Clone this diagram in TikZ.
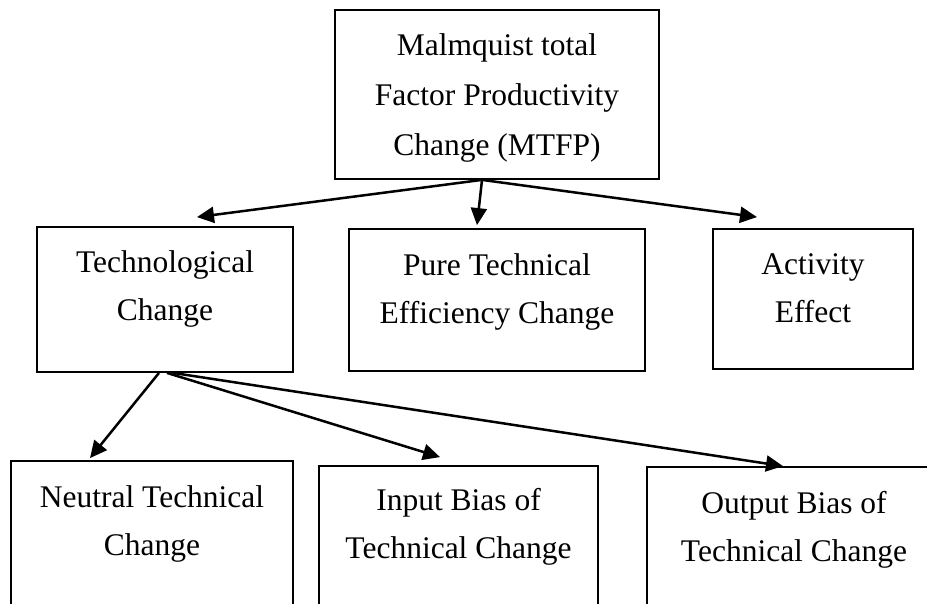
\documentclass[tikz,border=0pt]{standalone}
\usepackage{fontspec}
\setmainfont{Liberation Serif}
\usetikzlibrary{arrows.meta,calc}

\tikzset{
  box/.style={draw=black, line width=1.8pt, rectangle, inner sep=0pt},
  lbl/.style={anchor=north, align=center, inner sep=0pt,
              font=\fontsize{31.5}{48}\selectfont},
  toplbl/.style={lbl, font=\fontsize{31.5}{50}\selectfont},
  arr/.style={line width=2.5pt, -{Triangle[length=17pt,width=16pt]}}
}

\begin{document}
\begin{tikzpicture}[x=1pt, y=-1pt]
  \clip (0,0) rectangle (927,604);

  % boxes
  \node[box, minimum width=324pt, minimum height=169pt] (mtfp) at (497,94.5) {};
  \node[box, minimum width=256pt, minimum height=145pt] (tc)   at (165,299.5) {};
  \node[box, minimum width=296pt, minimum height=142pt] (pte)  at (497,300) {};
  \node[box, minimum width=200pt, minimum height=140pt] (ae)   at (813,299) {};
  \node[box, minimum width=282pt, minimum height=180pt] (ntc)  at (152,551) {};
  \node[box, minimum width=279pt, minimum height=180pt] (ibc)  at (458.5,556) {};
  \node[box, minimum width=294pt, minimum height=180pt] (obc)  at (794,557) {};

  % labels, set near the top of each box
  \node[toplbl] (mtfp-t) at ([yshift=-24pt]mtfp.north) {Malmquist total\\Factor Productivity\\Change (MTFP)};
  \node[lbl] (tc-t)  at ([yshift=-24pt]tc.north)  {Technological\\Change};
  \node[lbl] (pte-t) at ([yshift=-25pt]pte.north) {Pure Technical\\Efficiency Change};
  \node[lbl] (ae-t)  at ([yshift=-25pt]ae.north)  {Activity\\Effect};
  \node[lbl] (ntc-t) at ([yshift=-25pt]ntc.north) {Neutral Technical\\Change};
  \node[lbl] (ibc-t) at ([yshift=-23pt]ibc.north) {Input Bias of\\Technical Change};
  \node[lbl] (obc-t) at ([yshift=-25pt]obc.north) {Output Bias of\\Technical Change};

  % first level
  \draw[arr] ([xshift=-15pt]mtfp.south) -- ([xshift=32pt,yshift=9pt]tc.north);
  \draw[arr] ([xshift=-15pt]mtfp.south) -- ([xshift=-20pt,yshift=3pt]pte.north);
  \draw[arr] ([xshift=-15pt]mtfp.south) -- ([xshift=-56pt,yshift=11pt]ae.north);

  % second level
  \draw[arr] ([xshift=-6pt]tc.south) -- ([xshift=-62pt,yshift=2pt]ntc.north);
  \draw[arr] ([xshift=2pt]tc.south)  -- ([xshift=-18.5pt,yshift=8pt]ibc.north);
  \draw[arr] ([xshift=8pt]tc.south)  -- ([xshift=-11pt,yshift=0pt]obc.north);
\end{tikzpicture}
\end{document}
